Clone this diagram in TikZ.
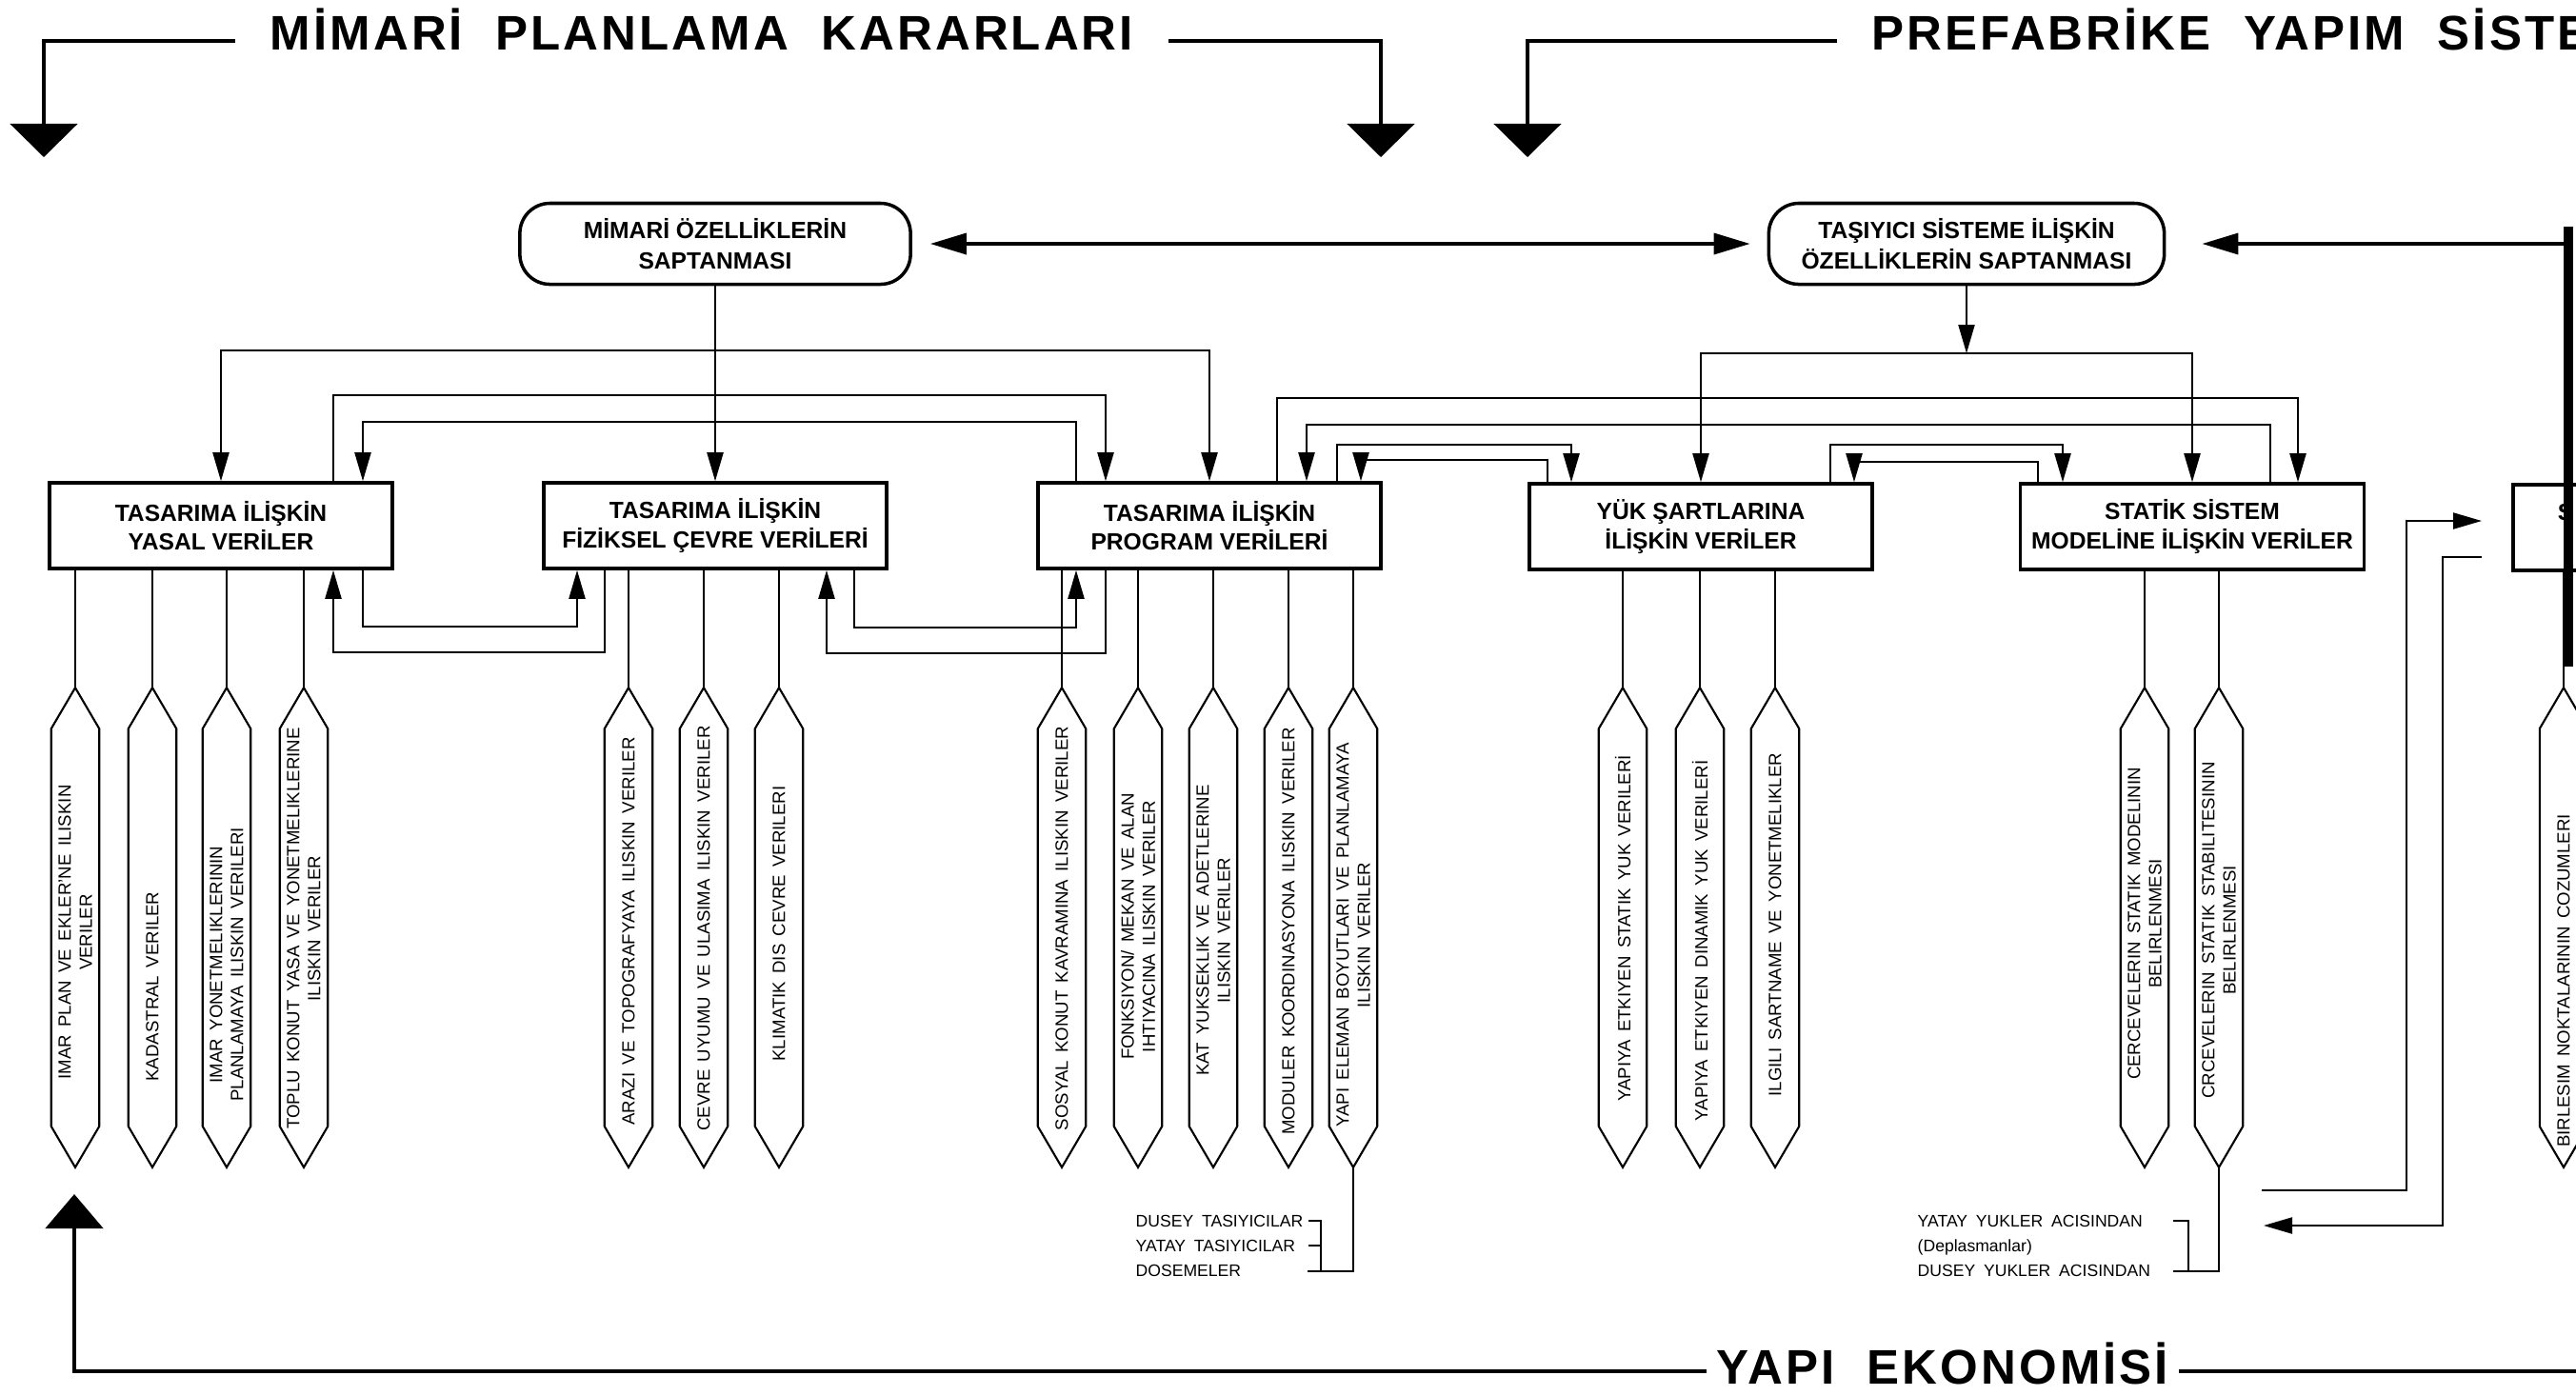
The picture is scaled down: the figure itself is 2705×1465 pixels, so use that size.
\documentclass[tikz,border=0pt]{standalone}
\usepackage{fontspec}
\setmainfont{Liberation Sans}
\newfontfamily\headfont{Liberation Sans}[LetterSpace=6.0]
\usetikzlibrary{arrows.meta}

\begin{document}
\begin{tikzpicture}[x=0.01cm, y=-0.01cm,
  head/.style={line width=1.4pt, -{Triangle[length=0.35cm, width=0.7cm]}},
  headtxt/.style={font=\headfont\fontsize{14.5}{16}\selectfont\bfseries, inner xsep=0.36cm, inner ysep=0pt},
  topbox/.style={draw, line width=1pt, rounded corners=9pt, minimum width=4.1cm, minimum height=0.85cm,
                 align=center, font=\fontsize{7}{9.2}\selectfont\bfseries},
  databox/.style={draw, line width=1pt, minimum width=3.6cm, minimum height=0.9cm, align=center,
                  font=\fontsize{7}{8.6}\selectfont\bfseries},
  bigarr/.style={line width=1pt, -{Triangle[length=0.38cm, width=0.22cm]}},
  conn/.style={line width=0.6pt, -{Triangle[length=0.3cm, width=0.17cm]}},
  wire/.style={line width=0.6pt},
  hexbody/.style={minimum width=0.49cm, minimum height=5.02cm, inner sep=0pt},
  hexline/.style={line width=0.6pt},
  hextxt/.style={rotate=90, align=center, inner sep=0pt,
                 font={\fontsize{5.3}{6.3}\selectfont\spaceskip=0.45em\relax}},
  sub/.style={align=left, inner sep=0pt, anchor=west, font={\fontsize{5}{7.4}\selectfont\spaceskip=0.5em\relax}},
]
\useasboundingbox (0,0) rectangle (2705,1465);
\begin{scope}
\clip (0,0) rectangle (2705,1465);

% headers
\node[headtxt, anchor=base] (mhead) at (737,52) {MİMARİ\ \ PLANLAMA\ \ KARARLARI};
\draw[head] (mhead.west |- 0,43) -| (46,165);
\draw[head] (mhead.east |- 0,43) -| (1450,165);
\node[headtxt, anchor=base west] (phead) at (1929,52) {PREFABRİKE\ \ YAPIM\ \ SİSTEMİ};
\draw[head] (phead.west |- 0,43) -| (1604,165);

% upper level
\node[topbox] (mimari) at (751,256) {MİMARİ ÖZELLİKLERİN\\SAPTANMASI};
\node[topbox, minimum width=4.15cm] (tasiyici) at (2065,256) {TAŞIYICI SİSTEME İLİŞKİN\\ÖZELLİKLERİN SAPTANMASI};
\draw[line width=1pt, {Triangle[length=0.38cm, width=0.22cm]}-{Triangle[length=0.38cm, width=0.22cm]},
  shorten <=0.19cm, shorten >=0.18cm] (mimari.east) -- (tasiyici.west);
\coordinate (bar) at (2697,256);
\draw[line width=3pt] (2697,238) -- (2697,700);
\draw[bigarr, shorten >=0.38cm] (bar) -- (tasiyici.east);

% data boxes
\node[databox] (yasal) at (232,552) {TASARIMA İLİŞKİN\\YASAL VERİLER};
\node[databox] (fiziksel) at (751,552) {TASARIMA İLİŞKİN\\FİZİKSEL ÇEVRE VERİLERİ};
\node[databox] (program) at (1270,552) {TASARIMA İLİŞKİN\\PROGRAM VERİLERİ};
\node[databox] (yuk) at (1786,553) {YÜK ŞARTLARINA\\İLİŞKİN VERİLER};
\node[databox] (statik) at (2302,553) {STATİK SİSTEM\\MODELİNE İLİŞKİN VERİLER};
\node[databox, anchor=west] (part) at (2637,554) {};
\node[font=\fontsize{7}{8.6}\selectfont\bfseries, inner sep=0pt] (parttxt) at (2694,538) {S};

% from the upper level
\coordinate (mtop) at (751,368);
\draw[conn] (mimari.south) -- (mimari.south |- fiziksel.north);
\draw[conn] (mtop) -| (yasal.north);
\draw[conn] (mtop) -| (program.north);
\coordinate (ttop) at (2065,371);
\draw[conn] (tasiyici.south) -- (ttop);
\draw[conn] (ttop) -| (yuk.north);
\draw[conn] (ttop) -| (statik.north);

% feedback loops, architecture side
\draw[conn] (350,0 |- yasal.north) |- (1161,415) -- (1161,0 |- program.north);
\draw[conn] (1130,0 |- program.north) |- (381,443) -- (381,0 |- yasal.north);
\draw[conn] (381,0 |- yasal.south) |- (606,658) -- (606,0 |- fiziksel.south);
\draw[conn] (635,0 |- fiziksel.south) |- (350,685) -- (350,0 |- yasal.south);
\draw[conn] (897,0 |- fiziksel.south) |- (1130,659) -- (1130,0 |- program.south);
\draw[conn] (1161,0 |- program.south) |- (868,686) -- (868,0 |- fiziksel.south);

% feedback loops, structure side
\draw[conn] (1341,0 |- program.north) |- (2413,418) -- (2413,0 |- statik.north);
\draw[conn] (2384,0 |- statik.north) |- (1372,446) -- (1372,0 |- program.north);
\draw[conn] (1404,0 |- program.north) |- (1650,467) -- (1650,0 |- yuk.north);
\draw[conn] (1625,0 |- yuk.north) |- (1429,483) -- (1429,0 |- program.north);
\draw[conn] (1922,0 |- yuk.north) |- (2166,467) -- (2166,0 |- statik.north);
\draw[conn] (2140,0 |- statik.north) |- (1947,485) -- (1947,0 |- yuk.north);

% data items
\foreach \src/\n/\x/\y/\t in {
  yasal/h1/79/979/{IMAR PLAN VE EKLER'NE ILISKIN\\VERILER},
  yasal/h2/160/1036/{KADASTRAL VERILER},
  yasal/h3/238/1013/{IMAR YONETMELIKLERININ\\PLANLAMAYA ILISKIN VERILERI},
  yasal/h4/319/975/{TOPLU KONUT YASA VE YONETMELIKLERINE\\ILISKIN VERILER},
  fiziksel/h5/660/978/{ARAZI VE TOPOGRAFYAYA ILISKIN VERILER},
  fiziksel/h6/739/975/{CEVRE UYUMU VE ULASIMA ILISKIN VERILER},
  fiziksel/h7/818/970/{KLIMATIK DIS CEVRE VERILERI},
  program/h8/1115/975/{SOSYAL KONUT KAVRAMINA ILISKIN VERILER},
  program/h9/1195/973/{FONKSIYON/ MEKAN VE ALAN\\IHTIYACINA ILISKIN VERILER},
  program/h10/1274/977/{KAT YUKSEKLIK VE ADETLERINE\\ILISKIN VERILER},
  program/h11/1353/978/{MODULER KOORDINASYONA ILISKIN VERILER},
  program/h12/1421/982/{YAPI ELEMAN BOYUTLARI VE PLANLAMAYA\\ILISKIN VERILER},
  yuk/h13/1704/975/{YAPIYA ETKIYEN STATIK YUK VERILERİ},
  yuk/h14/1785/988/{YAPIYA ETKIYEN DINAMIK YUK VERILERİ},
  yuk/h15/1864/971/{ILGILI SARTNAME VE YONETMELIKLER},
  statik/h16/2252/970/{CERCEVELERIN STATIK MODELININ\\BELIRLENMESI},
  statik/h17/2330/977/{CRCEVELERIN STATIK STABILITESININ\\BELIRLENMESI},
  part/h18/2692/1030/{BIRLESIM NOKTALARININ COZUMLERI}}
{
  \node[hexbody] (\n) at (\x,974) {};
  \draw[hexline] (\n.north) -- ([yshift=-0.43cm]\n.north east) -- ([yshift=0.43cm]\n.south east)
    -- (\n.south) -- ([yshift=0.43cm]\n.south west) -- ([yshift=-0.43cm]\n.north west) -- cycle;
  \node[hextxt] at (\x,\y) {\t};
  \draw[wire] (\n.north |- \src.south) -- (\n.north);
}

% sub-items
\node[sub] (elem) at (1192,1308) {DUSEY TASIYICILAR\\YATAY TASIYICILAR\\DOSEMELER};
\draw[wire] (h12.south) |- (1373,1335);
\draw[wire] (1374,1282) -- (1387,1282) -- (1387,1335);
\draw[wire] (1374,1308) -- (1387,1308);
\node[sub] (yukler) at (2013,1308) {YATAY YUKLER ACISINDAN\\(Deplasmanlar)\\DUSEY YUKLER ACISINDAN};
\draw[wire] (h17.south) |- (2282,1335);
\draw[wire] (2282,1282) -- (2298,1282) -- (2298,1335);

% links of the cut-off box
\coordinate (pin) at (2606,547);
\coordinate (pout) at (2606,585);
\coordinate (inR) at (2375,1250);
\coordinate (outR) at (2377,1287);
\draw[conn] (inR) -| (2527,547) -- (pin);
\draw[conn] (pout) -| (2565,1287) -- (outR);

% economy
\node[headtxt, inner xsep=0.1cm, anchor=base] (yhead) at (2040,1453) {YAPI\ \ EKONOMİSİ};
\draw[head, -{Triangle[length=0.36cm, width=0.6cm]}] (yhead.west |- 0,1440) -| (78,1254);
\draw[line width=1.4pt] (yhead.east |- 0,1440) -- (2705,1440);
\end{scope}
\end{tikzpicture}
\end{document}
